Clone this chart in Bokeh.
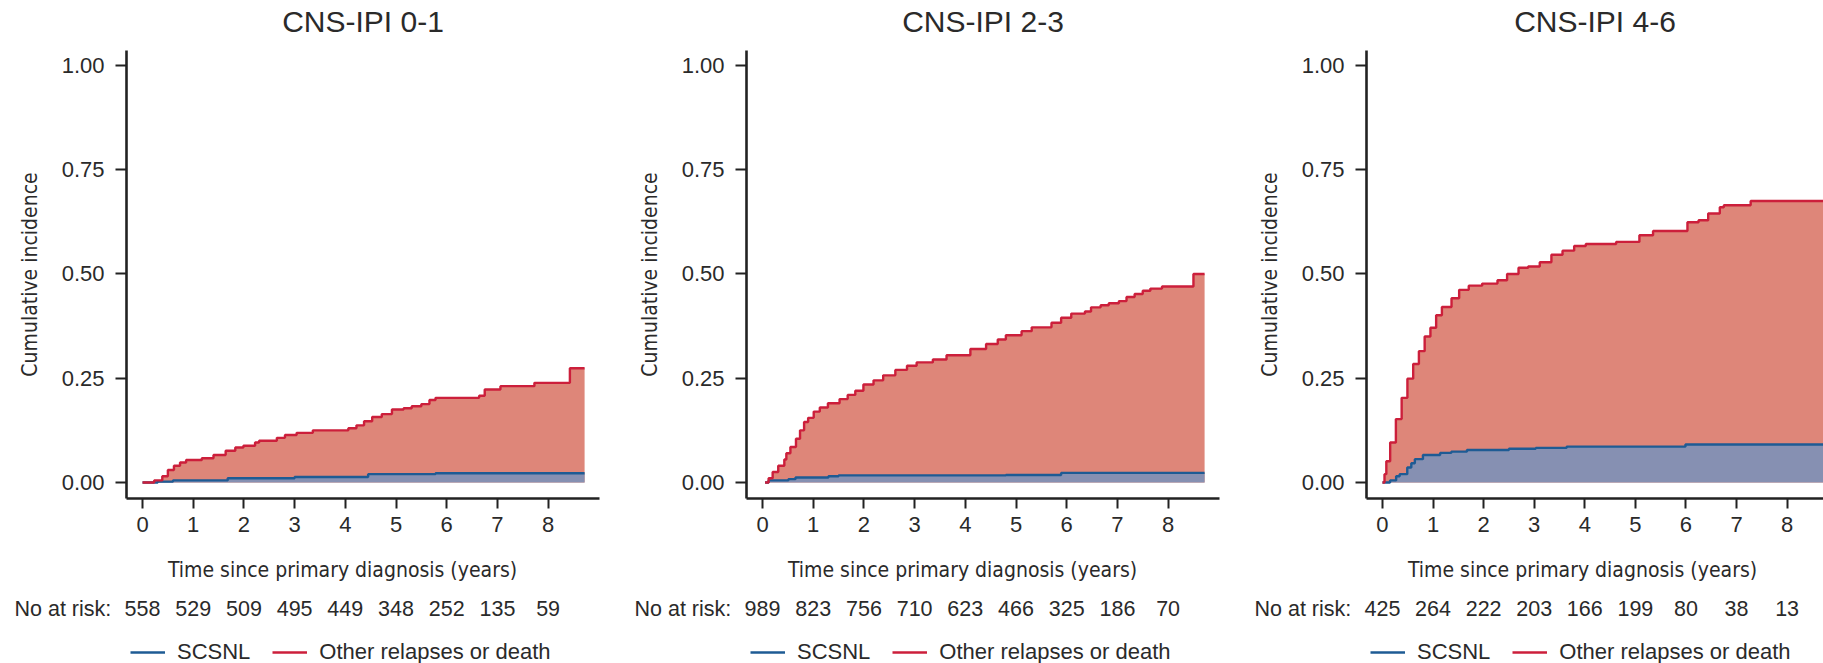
from bokeh.plotting import figure
from bokeh.layouts import row, column
from bokeh.models import (Range1d, FixedTicker, PrintfTickFormatter,
                          Legend, LegendItem)
from bokeh.core.properties import value
from bokeh.embed import file_html
from bokeh.resources import INLINE

# ---------------- data ----------------
YEARS = [0, 1, 2, 3, 4, 5, 6, 7, 8]
Y_TICKS = [0.0, 0.25, 0.5, 0.75, 1.0]

TITLES = ["CNS-IPI 0-1", "CNS-IPI 2-3", "CNS-IPI 4-6"]
SERIES_NAMES = ["SCSNL", "Other relapses or death"]
X_TITLE = "Time since primary diagnosis (years)"
Y_TITLE = "Cumulative incidence"
RISK_TITLE = "No at risk:"

# CNS-IPI 0-1
P1_OTHER_T = [0, 0.23, 0.39, 0.5, 0.62, 0.74, 0.86, 1.17, 1.4, 1.64, 1.83, 1.99,
              2.22, 2.3, 2.65, 2.81, 3.04, 3.36, 4.06, 4.22, 4.37, 4.53, 4.72,
              4.92, 5.15, 5.31, 5.5, 5.66, 5.78, 6.64, 6.75, 7.06, 7.73, 8.43, 8.72]
P1_OTHER_Y = [0, 0.005, 0.015, 0.03, 0.04, 0.048, 0.054, 0.058, 0.066, 0.076, 0.084,
              0.088, 0.096, 0.10, 0.107, 0.114, 0.119, 0.125, 0.13, 0.137, 0.147,
              0.157, 0.164, 0.175, 0.178, 0.183, 0.188, 0.198, 0.203, 0.208, 0.223,
              0.231, 0.239, 0.274, 0.274]
P1_SCSNL_T = [0, 0.3, 0.6, 1.68, 3.0, 4.45, 5.78, 8.72]
P1_SCSNL_Y = [0, 0.002, 0.005, 0.01, 0.013, 0.02, 0.022, 0.022]
P1_AT_RISK = [558, 529, 509, 495, 449, 348, 252, 135, 59]

# CNS-IPI 2-3
P2_OTHER_T = [0.05, 0.12, 0.2, 0.31, 0.43, 0.47, 0.55, 0.66, 0.74, 0.82, 0.9, 1.01,
              1.13, 1.29, 1.52, 1.68, 1.83, 1.99, 2.19, 2.38, 2.62, 2.85, 3.04,
              3.36, 3.63, 4.1, 4.41, 4.64, 4.8, 5.11, 5.31, 5.7, 5.89, 6.09, 6.36,
              6.48, 6.67, 6.83, 7.03, 7.18, 7.34, 7.5, 7.65, 7.88, 8.5, 8.72]
P2_OTHER_Y = [0, 0.01, 0.025, 0.04, 0.055, 0.07, 0.085, 0.105, 0.125, 0.145, 0.155,
              0.17, 0.18, 0.19, 0.2, 0.21, 0.22, 0.235, 0.245, 0.257, 0.27, 0.28,
              0.288, 0.295, 0.305, 0.32, 0.332, 0.343, 0.353, 0.363, 0.372, 0.383,
              0.395, 0.405, 0.41, 0.42, 0.425, 0.43, 0.435, 0.445, 0.452, 0.46,
              0.465, 0.47, 0.5, 0.5]
P2_SCSNL_T = [0.05, 0.12, 0.51, 0.65, 1.3, 1.5, 4.8, 5.89, 8.72]
P2_SCSNL_Y = [0, 0.005, 0.008, 0.012, 0.015, 0.017, 0.018, 0.023, 0.023]
P2_AT_RISK = [989, 823, 756, 710, 623, 466, 325, 186, 70]

# CNS-IPI 4-6
P3_OTHER_T = [0, 0.04, 0.076, 0.152, 0.265, 0.379, 0.493, 0.607, 0.72, 0.834, 0.948,
              1.061, 1.175, 1.365, 1.516, 1.706, 1.971, 2.274, 2.464, 2.69, 2.88,
              3.11, 3.34, 3.56, 3.79, 4.02, 4.62, 5.08, 5.35, 6.03, 6.25, 6.44,
              6.67, 6.75, 7.28, 8.72]
P3_OTHER_Y = [0, 0.02, 0.051, 0.096, 0.152, 0.203, 0.249, 0.284, 0.315, 0.35, 0.371,
              0.401, 0.421, 0.442, 0.462, 0.472, 0.477, 0.485, 0.5, 0.515, 0.518,
              0.528, 0.546, 0.556, 0.567, 0.572, 0.577, 0.593, 0.603, 0.624, 0.629,
              0.645, 0.66, 0.665, 0.675, 0.675]
P3_SCSNL_T = [0, 0.15, 0.27, 0.34, 0.49, 0.57, 0.64, 0.8, 1.14, 1.36, 1.67, 2.5,
              3.03, 3.64, 5.99, 8.72]
P3_SCSNL_Y = [0, 0.005, 0.015, 0.02, 0.036, 0.046, 0.056, 0.066, 0.071, 0.074,
              0.078, 0.081, 0.083, 0.086, 0.091, 0.091]
P3_AT_RISK = [425, 264, 222, 203, 166, 199, 80, 38, 13]

# ---------------- styles / layout ----------------
RED_LINE = "#CC1F3B"
RED_FILL = "#DE8679"
BLUE_LINE = "#1E5B94"
BLUE_FILL = "#8690B2"
TXT = "#2a2a2a"
FONT = "Liberation Sans"
NARROW = "DejaVu Sans Condensed, Roboto"

TOTAL_H = 663
HEAD_H = 50           # title strip
MAIN_H = 498          # plot area + tick labels (page y 50..548)
FOOT_H = TOTAL_H - HEAD_H - MAIN_H
BORDER_L = 126
BORDER_BOTTOM = 50
X_START = -0.316
Y_START, Y_END = -0.0384, 1.036


def no_align(fig):
    if "frame_align" in fig.properties():
        fig.frame_align = False


def strip_figure(width, height, x0, x1):
    f = figure(width=width, height=height,
               x_range=Range1d(x0, x1), y_range=Range1d(0, height),
               output_backend="svg", toolbar_location=None,
               x_axis_location=None, y_axis_location=None,
               min_border=0, min_border_left=0, min_border_right=0,
               min_border_top=0, min_border_bottom=0)
    f.outline_line_color = None
    f.grid.visible = False
    no_align(f)
    return f


def make_panel(title, other_t, other_y, scsnl_t, scsnl_y, at_risk,
               width, border_right, x_end):
    p = figure(width=width, height=MAIN_H,
               x_range=Range1d(X_START, x_end), y_range=Range1d(Y_START, Y_END),
               output_backend="svg", toolbar_location=None,
               min_border_left=BORDER_L, min_border_right=border_right,
               min_border_top=0, min_border_bottom=BORDER_BOTTOM)
    p.outline_line_color = None
    p.grid.visible = False
    no_align(p)

    p.varea_step(x=other_t, y1=0, y2=other_y, step_mode="after",
                 fill_color=RED_FILL)
    p.varea_step(x=scsnl_t, y1=0, y2=scsnl_y, step_mode="after",
                 fill_color=BLUE_FILL)
    rb = p.step(scsnl_t, scsnl_y, mode="after", line_color=BLUE_LINE,
                line_width=2.4)
    rr = p.step(other_t, other_y, mode="after", line_color=RED_LINE,
                line_width=2.4)

    for ax in (p.xaxis[0], p.yaxis[0]):
        ax.axis_line_color = "#222222"
        ax.axis_line_width = 2.6
        ax.major_tick_line_color = "#222222"
        ax.major_tick_line_width = 2
        ax.major_tick_in = 0
        ax.minor_tick_line_color = None
        ax.major_label_text_font = FONT
        ax.major_label_text_font_size = "22px"
        ax.major_label_text_color = TXT

    p.xaxis.ticker = FixedTicker(ticks=YEARS)
    p.xaxis.major_tick_out = 10
    p.xaxis.major_label_standoff = 8

    p.yaxis.ticker = FixedTicker(ticks=Y_TICKS)
    p.yaxis.formatter = PrintfTickFormatter(format="%.2f")
    p.yaxis.major_tick_out = 11
    p.yaxis.major_label_standoff = 11
    p.yaxis.axis_label = Y_TITLE
    p.yaxis.axis_label_text_font = NARROW
    p.yaxis.axis_label_text_font_size = "21px"
    p.yaxis.axis_label_text_font_style = "normal"
    p.yaxis.axis_label_text_color = TXT
    p.yaxis.axis_label_standoff = 17

    frame_w = width - BORDER_L - border_right
    ppx = frame_w / (x_end - X_START)          # pixels per year
    fx0 = X_START - BORDER_L / ppx
    fx1 = x_end + border_right / ppx

    def fx(page_x):
        return fx0 + page_x / ppx

    # ---- header: panel title ----
    h = strip_figure(width, HEAD_H, fx0, fx1)
    h.text(x=[(X_START + x_end) / 2], y=[HEAD_H - 21], text=[title],
           text_font=value(FONT), text_font_size="30px", text_color=TXT,
           text_align="center", text_baseline="middle")

    # ---- footer: x title, numbers at risk, legend ----
    f = strip_figure(width, FOOT_H, fx0, fx1)

    def fy(page_y):
        return FOOT_H - (page_y - HEAD_H - MAIN_H)

    f.text(x=[fx(342)], y=[fy(569)], text=[X_TITLE],
           text_font=value(NARROW), text_font_size="21px", text_color=TXT,
           text_align="center", text_baseline="middle")
    f.text(x=[fx(14)], y=[fy(608)], text=[RISK_TITLE],
           text_font=value(FONT), text_font_size="21.5px", text_color=TXT,
           text_align="left", text_baseline="middle")
    f.text(x=YEARS, y=[fy(608)] * len(YEARS), text=[str(n) for n in at_risk],
           text_font=value(FONT), text_font_size="21.5px", text_color=TXT,
           text_align="center", text_baseline="middle")

    # single-vertex lines: draw nothing themselves, only give legend keys
    lb = f.line(x=[fx0], y=[0], line_color=BLUE_LINE, line_width=2.6)
    lr = f.line(x=[fx0], y=[0], line_color=RED_LINE, line_width=2.6)
    legend = Legend(items=[LegendItem(label=SERIES_NAMES[0], renderers=[lb]),
                           LegendItem(label=SERIES_NAMES[1], renderers=[lr])],
                    orientation="horizontal", location=(BORDER_L + 4, -2),
                    glyph_width=35, glyph_height=24, label_standoff=12,
                    spacing=22, padding=0, margin=0,
                    border_line_color=None, background_fill_alpha=0,
                    label_text_font=FONT, label_text_font_size="22px",
                    label_text_color=TXT, label_text_baseline="middle")
    f.add_layout(legend, "center")
    return column(h, p, f, spacing=0)


c1 = make_panel(TITLES[0], P1_OTHER_T, P1_OTHER_Y, P1_SCSNL_T, P1_SCSNL_Y,
                P1_AT_RISK, 620, 21, 9.014)
c2 = make_panel(TITLES[1], P2_OTHER_T, P2_OTHER_Y, P2_SCSNL_T, P2_SCSNL_Y,
                P2_AT_RISK, 620, 21, 9.014)
c3 = make_panel(TITLES[2], P3_OTHER_T, P3_OTHER_Y, P3_SCSNL_T, P3_SCSNL_Y,
                P3_AT_RISK, 583, 0, 8.72)

layout = row(c1, c2, c3, spacing=0)
open("out.html", "w").write(file_html(layout, INLINE))
